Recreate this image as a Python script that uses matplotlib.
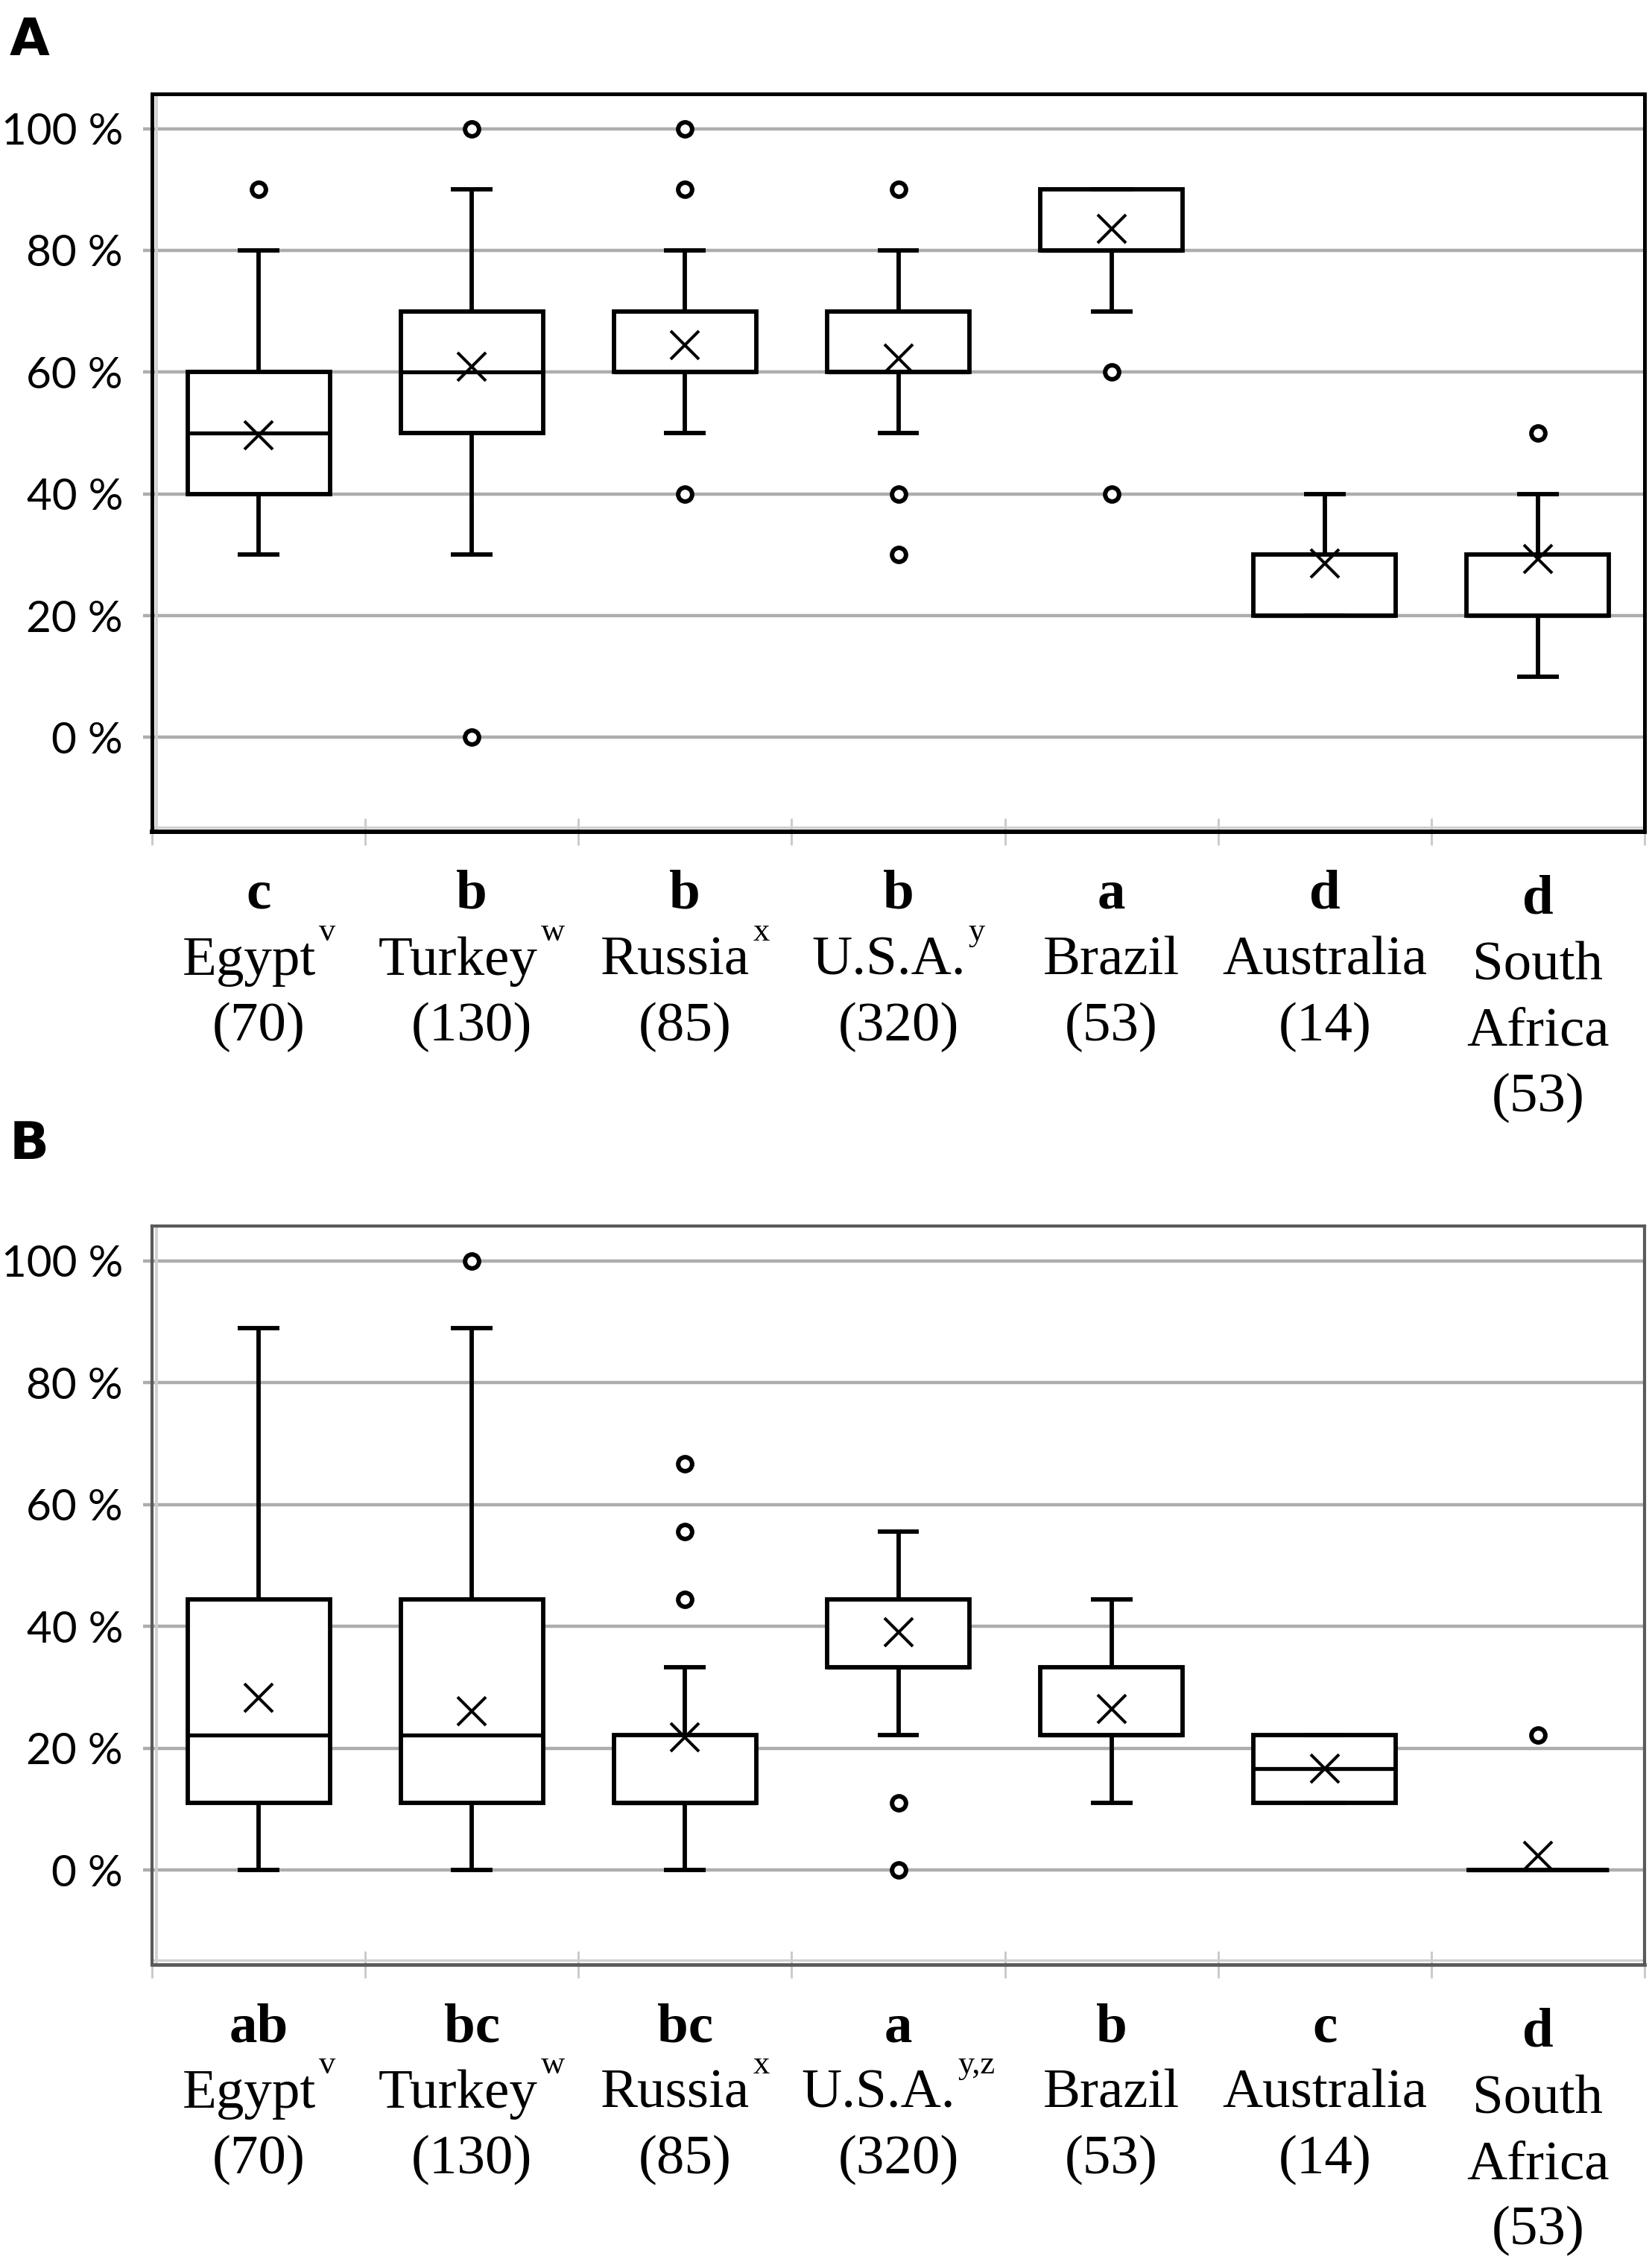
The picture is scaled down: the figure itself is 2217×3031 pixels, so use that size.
import matplotlib
matplotlib.use('Agg')
import matplotlib.pyplot as plt
from matplotlib.lines import Line2D
from matplotlib.transforms import offset_copy

W, H = 2217, 3031

# ---------------- data ----------------
names = [["Egypt"], ["Turkey"], ["Russia"], ["U.S.A."], ["Brazil"], ["Australia"], ["South", "Africa"]]
n_labels = ["(70)", "(130)", "(85)", "(320)", "(53)", "(14)", "(53)"]
sup_A = ["v", "w", "x", "y", "", "", ""]
sup_B = ["v", "w", "x", "y,z", "", "", ""]
letters_A = ["c", "b", "b", "b", "a", "d", "d"]
letters_B = ["ab", "bc", "bc", "a", "b", "c", "d"]
yticks = [0, 20, 40, 60, 80, 100]

q1_A = [40, 50, 60, 60, 80, 20, 20]
med_A = [50, 60, 60, 60, 80, 20, 20]
q3_A = [60, 70, 70, 70, 90, 30, 30]
lo_A = [30, 30, 50, 50, 70, 20, 10]
hi_A = [80, 90, 80, 80, 90, 40, 40]
mean_A = [49.6, 60.9, 64.5, 62.3, 83.6, 28.6, 29.3]
fliers_A = [[90], [100, 0], [100, 90, 40], [90, 40, 30], [60, 40], [], [50]]

q1_B = [11.1, 11.1, 11.1, 33.3, 22.2, 11.1, 0]
med_B = [22.2, 22.2, 11.1, 33.3, 22.2, 16.7, 0]
q3_B = [44.4, 44.4, 22.2, 44.4, 33.3, 22.2, 0]
lo_B = [0, 0, 0, 22.2, 11.1, 11.1, 0]
hi_B = [88.9, 88.9, 33.3, 55.6, 44.4, 22.2, 0]
mean_B = [28.3, 26.1, 21.8, 39.0, 26.5, 16.7, 2.3]
fliers_B = [[], [100], [66.7, 55.6, 44.4], [11.1, 0], [], [], [22.2]]

SERIF = ['Liberation Serif', 'DejaVu Serif']
SANS = ['Lato', 'DejaVu Sans']

fig = plt.figure(figsize=(W / 100, H / 100), dpi=100)

LW = 4.2
GRID = '#adadad'


def make_panel(top_px, bottom_px, q1, med, q3, lo, hi, means, fliers, frame_color, frame_lw, bottom_lw):
    ax = fig.add_axes([204 / W, (H - bottom_px) / H, (2207 - 204) / W, (bottom_px - top_px) / H])
    stats = []
    for i in range(len(q1)):
        stats.append(dict(q1=q1[i], med=med[i], q3=q3[i], whislo=lo[i], whishi=hi[i],
                          mean=means[i], fliers=fliers[i]))
    ax.bxp(stats, positions=list(range(len(stats))), widths=0.667, capwidths=0.195,
           patch_artist=True, showmeans=True,
           boxprops=dict(facecolor='white', edgecolor='black', linewidth=LW),
           whiskerprops=dict(color='black', linewidth=LW, solid_capstyle='butt'),
           capprops=dict(color='black', linewidth=LW, solid_capstyle='butt'),
           medianprops=dict(color='black', linewidth=3.8, solid_capstyle='butt'),
           meanprops=dict(marker='x', markersize=27.5, markeredgecolor='black', markeredgewidth=2.9),
           flierprops=dict(marker='o', markersize=13.5, markerfacecolor='white',
                           markeredgecolor='black', markeredgewidth=4.3))
    ax.set_xlim(-0.5, len(stats) - 0.5)
    ax.set_ylim(-15.5, 105.7)
    ax.set_yticks(yticks)
    ax.set_yticklabels([f"{v} %" for v in yticks], fontfamily=SANS, fontsize=42)
    ax.tick_params(axis='y', length=9, width=3.2, color=GRID, pad=19)
    ax.yaxis.grid(True, color=GRID, linewidth=3.2)
    ax.set_axisbelow(True)
    ax.set_xticks([])
    ax.set_xticks([i - 0.5 for i in range(len(stats) + 1)], minor=True)
    ax.tick_params(axis='x', which='minor', direction='inout', length=26, width=2.0, color='#c8c8c8')
    for s in ax.spines.values():
        s.set_color(frame_color)
        s.set_linewidth(frame_lw)
    ax.spines['bottom'].set_linewidth(bottom_lw)
    # light inner axis lines
    ax.add_line(Line2D([0, 0], [0, 1], transform=offset_copy(ax.transAxes, fig, x=5.5, y=0, units='dots'),
                       color='#cfcfcf', lw=2.6, clip_on=False))
    ax.add_line(Line2D([0, 1], [0, 0], transform=offset_copy(ax.transAxes, fig, x=0, y=6, units='dots'),
                       color='#cfcfcf', lw=2.2, clip_on=False))
    return ax


axA = make_panel(126, 1116, q1_A, med_A, q3_A, lo_A, hi_A, mean_A, fliers_A, 'black', 3.6, 4.3)
axB = make_panel(1645, 2636, q1_B, med_B, q3_B, lo_B, hi_B, mean_B, fliers_B, '#5a5a5a', 3.0, 3.4)

fig.text(13 / W, (H - 74) / H, "A", fontsize=50, fontweight='heavy', family=['DejaVu Sans'], va='baseline')
fig.text(13 / W, (H - 1555) / H, "B", fontsize=50, fontweight='heavy', family=['DejaVu Sans'], va='baseline')

renderer = fig.canvas.get_renderer()


def label_panel(ax, letters, sups):
    bottom_disp = ax.transAxes.transform((0, 0))[1]
    for i in range(len(letters)):
        cx = ax.transData.transform((i, 0))[0]
        extra = 7 if len(names[i]) > 1 else 0
        y = bottom_disp - 103 - extra
        fig.text(cx / W, y / H, letters[i], fontsize=54, fontweight='bold', family=SERIF,
                 ha='center', va='baseline')
        lines = names[i] + [n_labels[i]]
        for j, line in enumerate(lines):
            yy = bottom_disp - 192 - extra - 88 * j
            if j == 0 and sups[i]:
                tm = fig.text(0, yy / H, line, fontsize=54, family=SERIF, ha='left', va='baseline')
                ts = fig.text(0, (yy + 46) / H, sups[i], fontsize=32, family=SERIF, ha='left', va='baseline')
                wm = tm.get_window_extent(renderer).width
                ws = ts.get_window_extent(renderer).width
                gap = 4
                x0 = cx - (wm + gap + ws) / 2
                tm.set_x(x0 / W)
                ts.set_x((x0 + wm + gap) / W)
            else:
                fig.text(cx / W, yy / H, line, fontsize=54, family=SERIF, ha='center', va='baseline')


label_panel(axA, letters_A, sup_A)
label_panel(axB, letters_B, sup_B)

fig.savefig('out.png', dpi=100, facecolor='white')
